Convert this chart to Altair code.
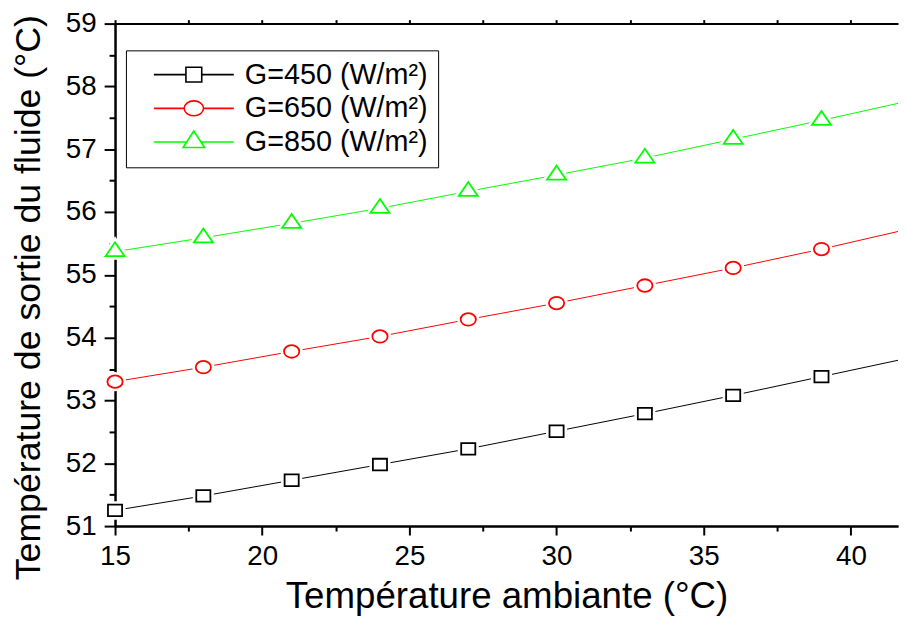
import altair as alt
import pandas as pd

# ---- data ----
temp_amb = [15, 18, 21, 24, 27, 30, 33, 36, 39]
g450 = [51.25, 51.48, 51.73, 51.98, 52.23, 52.51, 52.79, 53.08, 53.38]
g650 = [53.30, 53.53, 53.78, 54.02, 54.29, 54.55, 54.83, 55.11, 55.41]
g850 = [55.37, 55.59, 55.82, 56.06, 56.33, 56.59, 56.86, 57.16, 57.46]
edge_x = 41.6
edge_vals = [53.64, 55.69, 57.73]
series = ["G=450 (W/m²)", "G=650 (W/m²)", "G=850 (W/m²)"]
colors = ["#000000", "#ff0000", "#00ff00"]

x_major = [15, 20, 25, 30, 35, 40]
x_minor = [17.5, 22.5, 27.5, 32.5, 37.5]
x_top = [15, 17.5, 20, 22.5, 25, 27.5, 30, 32.5, 35, 37.5, 40]
y_major = [51, 52, 53, 54, 55, 56, 57, 58, 59]
y_minor = [51.5, 52.5, 53.5, 54.5, 55.5, 56.5, 57.5, 58.5]

# ---- tables ----
rows = []
for s, vals in zip(series, [g450, g650, g850]):
    for xv, yv in zip(temp_amb, vals):
        rows.append({"series": s, "x": xv, "y": yv})
pts = pd.DataFrame(rows)
line_rows = list(rows)
for s, ev in zip(series, edge_vals):
    line_rows.append({"series": s, "x": edge_x, "y": ev})
lines = pd.DataFrame(line_rows)

FONT = "Liberation Sans"

# marker shapes (centred on the data point)
plot_shapes = [
    "M-0.89,-0.73H0.89V0.73H-0.89Z",
    "M-0.96,0A0.96,0.79 0 1,0 0.96,0A0.96,0.79 0 1,0 -0.96,0Z",
    "M0,-1.17L1.2,0.58L-1.2,0.58Z",
]
legend_shapes = [
    "M-4.2,0H-0.83M0.83,0H4.2M-0.83,-0.78H0.83V0.78H-0.83Z",
    "M-4.2,0H-1.02M1.02,0H4.2M-1.02,0A1.02,0.78 0 1,0 1.02,0A1.02,0.78 0 1,0 -1.02,0Z",
    "M-4.2,0H-0.75M0.75,0H4.2M0,-1.16L1.13,0.58L-1.13,0.58Z",
]

xscale = alt.Scale(domain=[15, edge_x], nice=False, zero=False)
yscale = alt.Scale(domain=[51, 59], nice=False, zero=False)
cscale = alt.Scale(domain=series, range=colors)

axis_common = dict(domainColor="black", domainWidth=2, tickColor="black", tickWidth=2,
                   labelFont=FONT, labelFontSize=28, labelColor="black", labelFlush=False,
                   grid=False, titleFont=FONT, titleFontWeight="normal", titleColor="black")

# layer A: lines + major axes
line_layer = alt.Chart(lines).mark_line(strokeWidth=1, clip=True).encode(
    x=alt.X("x:Q", scale=xscale,
            axis=alt.Axis(orient="bottom", values=x_major, tickSize=9, labelPadding=8,
                          title="Température ambiante (°C)", titleFontSize=37, titlePadding=8,
                          **axis_common)),
    y=alt.Y("y:Q", scale=yscale,
            axis=alt.Axis(orient="left", values=y_major, tickSize=11, labelPadding=8,
                          title="Température de sortie du fluide (°C)", titleFontSize=36,
                          titlePadding=18, titleY=276, **axis_common)),
    color=alt.Color("series:N", scale=cscale, legend=None),
    detail="series:N",
    order="x:Q",
)

# layer B: white halo (gaps in lines) + minor ticks
halo_layer = alt.Chart(pts).mark_point(filled=True, fill="white", stroke="white",
                                       strokeWidth=7, opacity=1, size=256).encode(
    x=alt.X("x:Q", scale=xscale,
            axis=alt.Axis(orient="bottom", values=x_minor, tickSize=5, labels=False,
                          title=None, **axis_common)),
    y=alt.Y("y:Q", scale=yscale,
            axis=alt.Axis(orient="left", values=y_minor, tickSize=6, labels=False,
                          title=None, **axis_common)),
    shape=alt.Shape("series:N", scale=alt.Scale(domain=series, range=plot_shapes), legend=None),
)

# layer C: markers + top axis
marker_layer = alt.Chart(pts).mark_point(filled=True, fill="white", strokeWidth=1.8,
                                         opacity=1, size=256).encode(
    x=alt.X("x:Q", scale=xscale,
            axis=alt.Axis(orient="top", values=x_top, tickSize=4, labels=False,
                          title=None, **axis_common)),
    y=alt.Y("y:Q", scale=yscale, axis=None),
    stroke=alt.Stroke("series:N", scale=cscale, legend=None),
    shape=alt.Shape("series:N", scale=alt.Scale(domain=series, range=plot_shapes), legend=None),
)

legend_props = dict(orient="none", legendX=11, legendY=27, title=None,
                    strokeColor="black", fillColor="white", padding=10,
                    symbolSize=369, symbolOffset=44, labelOffset=37,
                    labelFont=FONT, labelFontSize=29, labelColor="black",
                    labelLimit=400, rowPadding=4, symbolStrokeWidth=1.6,
                    symbolOpacity=1)

# layer D: legend only
legend_layer = alt.Chart(pts).mark_point(filled=False, opacity=0, strokeWidth=1.6).encode(
    x=alt.X("x:Q", scale=xscale, axis=None),
    y=alt.Y("y:Q", scale=yscale, axis=None),
    color=alt.Color("series:N", scale=cscale, legend=alt.Legend(**legend_props)),
    shape=alt.Shape("series:N", scale=alt.Scale(domain=series, range=legend_shapes),
                    legend=alt.Legend(**legend_props)),
)

chart = alt.layer(line_layer, halo_layer, marker_layer, legend_layer).resolve_axis(
    x="independent", y="independent"
).resolve_scale(
    color="independent", shape="independent", stroke="independent"
).properties(
    width=790, height=507,
    padding={"left": 108, "top": 13, "right": 1, "bottom": 91},
    autosize=alt.AutoSizeParams(type="none"),
    background="white",
).configure_view(stroke=None)

chart.save("out.html", embed_options={"renderer": "svg", "actions": False})
